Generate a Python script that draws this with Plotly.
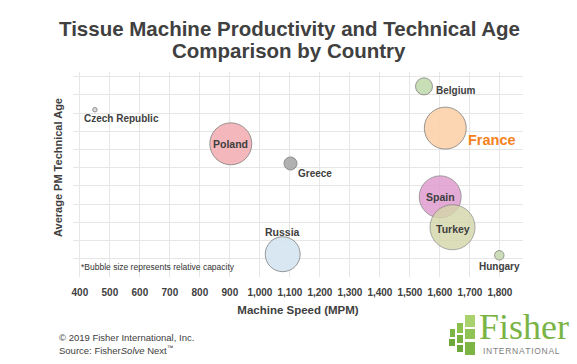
import plotly.graph_objects as go

# ---- data ----
countries = ["Czech Republic", "Poland", "Greece", "Russia", "Belgium",
             "France", "Spain", "Turkey", "Hungary"]
machine_speed = [450, 903, 1102, 1076, 1547, 1618, 1601, 1642, 1798]
technical_age = [9.18, 7.31, 6.23, 1.25, 10.46, 8.17, 4.40, 2.73, 1.19]
capacity = [2, 176, 17, 122, 29, 176, 176, 203, 9]
x_ticks = [400, 500, 600, 700, 800, 900, 1000, 1100, 1200, 1300,
           1400, 1500, 1600, 1700, 1800]

# ---- styling ----
fills = ["#DCDCDC", "#F4B4B8", "#ADADAD", "#D6E6F2", "#C6DDB3",
         "#FCD3AF", "#E09DCF", "#D4D7AA", "#C9DDB6"]
opac = [1, 0.95, 0.95, 0.95, 0.95, 0.95, 0.85, 0.8, 0.95]
FONT = "Liberation Sans"
DARK = "#404040"

W, H = 577, 364
L, R, T, B = 73, 54, 72, 87
PW, PH = W - L - R, H - T - B


def px(x):
    return (x - L) / PW


def py(y):
    return (H - B - y) / PH


fig = go.Figure()
for i, c in enumerate(countries):
    fig.add_trace(go.Scatter(
        x=[machine_speed[i]], y=[technical_age[i]], mode="markers",
        marker=dict(size=[capacity[i]], sizemode="area", sizeref=0.2,
                    color=fills[i], opacity=opac[i],
                    line=dict(color="#7A7A7A", width=0.8)),
        name=c, showlegend=False, hoverinfo="text", text=[c]))

# label placement: (xanchor, xshift, yshift, size, color)
label_style = {
    "Czech Republic": ("left", -13, -9, 10, DARK),
    "Poland": ("center", 0, 0, 10.5, DARK),
    "Greece": ("left", 5, -10, 10, DARK),
    "Russia": ("center", 0, 22, 10.5, DARK),
    "Belgium": ("left", 10, -4, 10, DARK),
    "France": ("left", 21, -12, 14.5, "#F58220"),
    "Spain": ("center", 0, 0, 10.5, DARK),
    "Turkey": ("center", 0, -2, 10.5, DARK),
    "Hungary": ("center", 0, -11, 10, DARK),
}
for i, c in enumerate(countries):
    xa, xs, ys, sz, col = label_style[c]
    fig.add_annotation(x=machine_speed[i], y=technical_age[i], xref="x", yref="y",
                       text=c, showarrow=False, xanchor=xa, yanchor="middle",
                       xshift=xs, yshift=ys,
                       font=dict(family=FONT, size=sz, color=col, weight="bold"))

# titles
fig.add_annotation(x=px(289), y=py(28), xref="paper", yref="paper",
                   text="Tissue Machine Productivity and Technical Age",
                   showarrow=False, xanchor="center", yanchor="middle",
                   font=dict(family=FONT, size=20.5, color=DARK, weight="bold"))
fig.add_annotation(x=px(289), y=py(51), xref="paper", yref="paper",
                   text="Comparison by Country",
                   showarrow=False, xanchor="center", yanchor="middle",
                   font=dict(family=FONT, size=20.5, color=DARK, weight="bold"))
fig.add_annotation(x=px(58), y=py(168), xref="paper", yref="paper",
                   text="Average PM Technical Age", textangle=-90,
                   showarrow=False, xanchor="center", yanchor="middle",
                   font=dict(family=FONT, size=11, color=DARK, weight="bold"))
fig.add_annotation(x=px(79), y=py(267), xref="paper", yref="paper",
                   text="*Bubble size represents relative capacity",
                   showarrow=False, xanchor="left", yanchor="middle",
                   font=dict(family=FONT, size=8.5, color="#333333"))
fig.add_annotation(x=px(57), y=py(337), xref="paper", yref="paper",
                   text="© 2019 Fisher International, Inc.",
                   showarrow=False, xanchor="left", yanchor="middle",
                   font=dict(family=FONT, size=9.5, color=DARK))
fig.add_annotation(x=px(57), y=py(350), xref="paper", yref="paper",
                   text="Source: Fisher<i>Solve</i> Next<sup>™</sup>",
                   showarrow=False, xanchor="left", yanchor="middle",
                   font=dict(family=FONT, size=9.5, color=DARK))

# logo
blocks = [
    (465, 315, 475, 327, "#A9D26E"), (457, 323, 463, 333, "#8CC14E"),
    (450, 329, 455, 337, "#7DB544"),
    (465, 329, 475, 339, "#8FC454"), (457, 335, 463, 343, "#79B041"),
    (449, 339, 455, 346, "#6FA83A"),
    (465, 342, 475, 355, "#7DB544"), (457, 345, 463, 352, "#6FA83A"),
]
for x0, y0, x1, y1, col in blocks:
    fig.add_shape(type="rect", xref="paper", yref="paper",
                  x0=px(x0), x1=px(x1), y0=py(y1), y1=py(y0),
                  fillcolor=col, line=dict(width=0))
fig.add_annotation(x=px(477), y=py(327), xref="paper", yref="paper",
                   text="Fisher", showarrow=False, xanchor="left", yanchor="middle",
                   font=dict(family="Liberation Serif", size=36, color="#7AB445"))
fig.add_annotation(x=px(481), y=py(351), xref="paper", yref="paper",
                   text="\u200a".join("INTERNATIONAL"), showarrow=False,
                   xanchor="left", yanchor="middle",
                   font=dict(family=FONT, size=8.5, color="#808080"))

fig.update_layout(
    width=W, height=H, margin=dict(l=L, r=R, t=T, b=B),
    paper_bgcolor="white", plot_bgcolor="white",
    font=dict(family=FONT, color=DARK),
    xaxis=dict(range=[377, 1877], tickvals=x_ticks, tickformat=",d",
               showgrid=True, gridcolor="#E6E6E6", gridwidth=1, zeroline=False,
               showline=False, ticks="outside", ticklen=6,
               tickcolor="rgba(0,0,0,0)",
               tickfont=dict(family=FONT, size=10, color=DARK, weight="bold"),
               title=dict(text="Machine Speed (MPM)", standoff=8,
                          font=dict(family=FONT, size=11.5, color=DARK, weight="bold"))),
    yaxis=dict(range=[0, 11.25], dtick=1, showticklabels=False,
               showgrid=True, gridcolor="#E6E6E6", gridwidth=1, zeroline=False,
               showline=False, ticks=""),
)

fig.write_html("out.html",
               config={"displayModeBar": False},
               post_script="document.body.style.margin='0';"
                           "document.body.style.overflow='hidden';")
